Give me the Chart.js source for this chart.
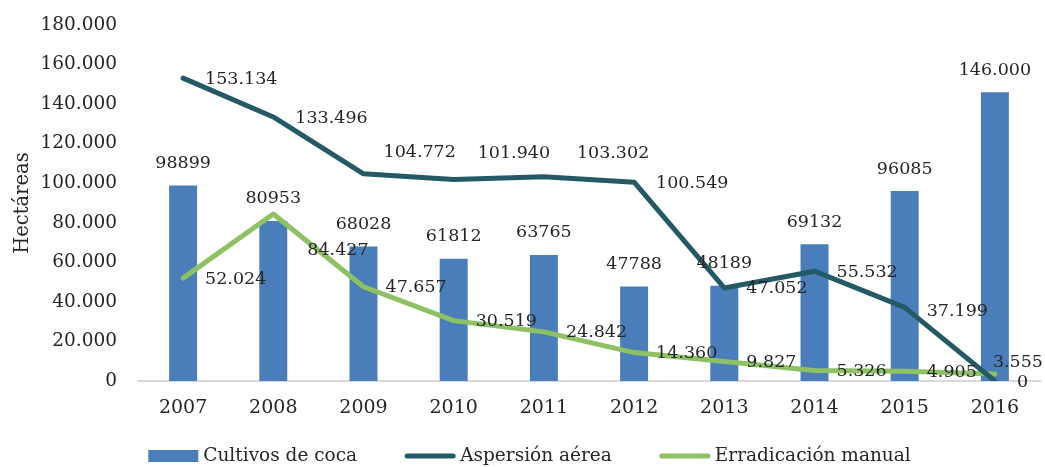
<!DOCTYPE html>
<html><head><meta charset="utf-8">
<script src="https://cdn.jsdelivr.net/npm/chart.js@4.4.1/dist/chart.umd.min.js"></script>
<style>html,body{margin:0;padding:0;background:#fff}#wrap{width:1045px;height:467px;position:relative}</style>
</head><body><div id="wrap"><canvas id="c" width="1045" height="467"></canvas></div>
<script>
const years = ['2007','2008','2009','2010','2011','2012','2013','2014','2015','2016'];
const cultivosCoca = [98899, 80953, 68028, 61812, 63765, 47788, 48189, 69132, 96085, 146000];
const cultivosCocaLabels = ['98899','80953','68028','61812','63765','47788','48189','69132','96085','146.000'];
const aspersionAerea = [153134, 133496, 104772, 101940, 103302, 100549, 47052, 55532, 37199, 0];
const erradicacionManual = [52024, 84427, 47657, 30519, 24842, 14360, 9827, 5326, 4905, 3555];
const yTicks = [0, 20000, 40000, 60000, 80000, 100000, 120000, 140000, 160000, 180000];
const seriesNames = ['Cultivos de coca', 'Aspersión aérea', 'Erradicación manual'];

const COL_BAR = '#4a7ebb', COL_ASP = '#245a66', COL_ERR = '#8dc163';
const SERIF = '"DejaVu Serif", "Liberation Serif", serif';
const TXT = '#262626';

function fmt(v){ return String(v).replace(/\B(?=(\d{3})+(?!\d))/g, '.'); }

// label placement relative to the point: [left offset, vertical offset]
const labelDefault = [22, 1];
const labelMoves = {
  1: {2: [20, -21], 3: [24, -26], 4: [33, -23], 8: [22, 4]},
  2: {1: [34, 36], 9: [-2, -12]}
};

const dataLabels = {
  id: 'dataLabels',
  afterDatasetsDraw(chart){
    const ctx = chart.ctx;
    ctx.save();
    ctx.font = '17.5px ' + SERIF;
    ctx.fillStyle = TXT;
    const mb = chart.getDatasetMeta(0);
    ctx.textAlign = 'center'; ctx.textBaseline = 'middle';
    mb.data.forEach((el, i) => ctx.fillText(cultivosCocaLabels[i], el.x, el.y - 22));
    ctx.textAlign = 'left';
    [1, 2].forEach(di => {
      const meta = chart.getDatasetMeta(di);
      const vals = chart.data.datasets[di].data;
      meta.data.forEach((el, i) => {
        const o = (labelMoves[di] && labelMoves[di][i]) || labelDefault;
        ctx.fillText(fmt(vals[i]), el.x + o[0], el.y + o[1]);
      });
    });
    ctx.restore();
  }
};

const legendPlugin = {
  id: 'customLegend',
  afterDraw(chart){
    const ctx = chart.ctx;
    ctx.save();
    ctx.font = '18.5px ' + SERIF;
    ctx.textBaseline = 'middle';
    ctx.textAlign = 'left';
    const sw = 50, gapT = 5, gapI = 48, y = 456;
    const widths = seriesNames.map(n => ctx.measureText(n).width);
    const total = widths.reduce((a, b) => a + b, 0) + 3 * (sw + gapT) + 2 * gapI;
    let x = (chart.width - total) / 2 + 7;
    const cols = [COL_BAR, COL_ASP, COL_ERR];
    seriesNames.forEach((n, i) => {
      if (i === 0) {
        ctx.fillStyle = cols[0];
        ctx.fillRect(x, y - 6, sw, 12);
      } else {
        ctx.strokeStyle = cols[i];
        ctx.lineWidth = 5;
        ctx.lineCap = 'round';
        ctx.beginPath(); ctx.moveTo(x + 2, y); ctx.lineTo(x + sw - 2, y); ctx.stroke();
      }
      ctx.fillStyle = TXT;
      ctx.fillText(n, x + sw + gapT, y);
      x += sw + gapT + widths[i] + gapI;
    });
    ctx.restore();
  }
};

new Chart(document.getElementById('c'), {
  data: {
    labels: years,
    datasets: [
      {type: 'bar', label: seriesNames[0], data: cultivosCoca, backgroundColor: COL_BAR,
       barPercentage: 0.31, categoryPercentage: 1, order: 3},
      {type: 'line', label: seriesNames[1], data: aspersionAerea, borderColor: COL_ASP,
       borderWidth: 5, pointRadius: 0, tension: 0, borderJoinStyle: 'round', borderCapStyle: 'round', order: 1},
      {type: 'line', label: seriesNames[2], data: erradicacionManual, borderColor: COL_ERR,
       borderWidth: 5, pointRadius: 0, tension: 0, borderJoinStyle: 'round', borderCapStyle: 'round', order: 2}
    ]
  },
  options: {
    responsive: false, animation: false, devicePixelRatio: 1,
    layout: {padding: {top: 25, right: 5, left: 0, bottom: 0}},
    plugins: {legend: {display: false}, tooltip: {enabled: false}},
    scales: {
      x: {
        offset: true,
        grid: {display: false, drawTicks: false},
        border: {display: true, color: '#d9d9d9', width: 2},
        ticks: {font: {family: SERIF, size: 19}, color: TXT, padding: 16},
        afterFit(s){ s.height = 86; }
      },
      y: {
        min: 0, max: 180000,
        afterBuildTicks(s){ s.ticks = yTicks.map(v => ({value: v})); },
        grid: {display: false, drawTicks: false},
        border: {display: false},
        ticks: {font: {family: SERIF, size: 18.5}, color: TXT, padding: 21, callback: v => fmt(v)},
        title: {display: true, text: 'Hectáreas', font: {family: SERIF, size: 19.5}, color: TXT, padding: {top: 11, bottom: 0}},
        afterFit(s){ s.width = 138; s.paddingTop = 12; s.paddingBottom = 12; }
      }
    }
  },
  plugins: [dataLabels, legendPlugin]
});
</script></body></html>
